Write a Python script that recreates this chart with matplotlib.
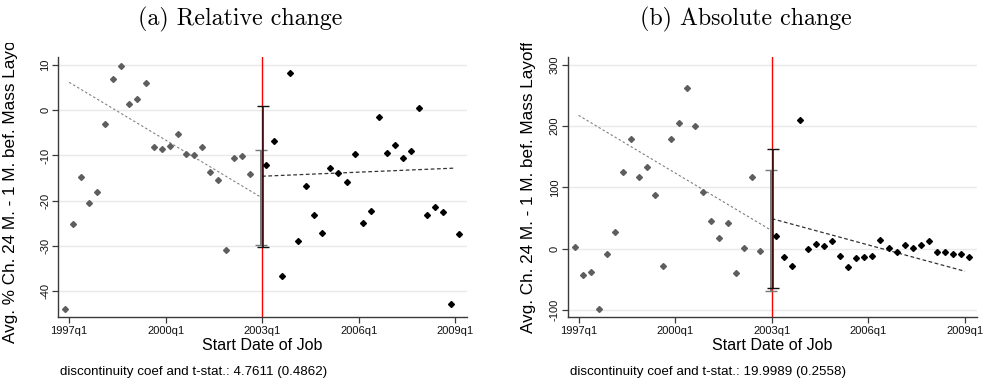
import matplotlib
matplotlib.use("Agg")
import matplotlib.pyplot as plt
from matplotlib.patches import Rectangle
import numpy as np

# ---------------- data ----------------
# x positions in quarters since 1997q1 (bin centres)
t_pre = [k - 0.5 for k in range(24)]
t_post = [k + 24.5 for k in range(25)]

rel_pre = [-44.1, -25.1, -14.7, -20.5, -18.1, -3.0, 6.9, 9.8, 1.3, 2.4, 6.0, -8.2,
           -8.5, -8.0, -5.3, -9.7, -10.0, -8.1, -13.6, -15.4, -31.0, -10.5, -10.2, -14.2]
rel_post = [-12.2, -6.8, -36.7, 8.2, -28.9, -16.7, -23.2, -27.2, -12.7, -13.9, -15.8,
            -9.7, -25.0, -22.2, -1.4, -9.5, -7.7, -10.5, -9.1, 0.5, -23.2, -21.5,
            -22.6, -42.9, -27.4]

abs_pre = [2.7, -43.1, -38.1, -99.2, -8.7, 26.7, 124.8, 178.7, 117.2, 133.0, 86.6,
           -28.9, 178.7, 205.4, 262.1, 199.5, 92.1, 45.2, 16.9, 42.5, -39.5, 1.6,
           116.6, -3.8]
abs_post = [21.3, -13.6, -27.8, 209.8, 0.0, 8.2, 4.4, 12.5, -11.4, -30.5, -15.3,
            -14.2, -11.4, 13.6, 1.6, -4.9, 5.4, 1.1, 5.4, 12.0, -6.0, -4.9, -8.7,
            -8.7, -13.6]

# fitted lines (start, end)
fit_x_pre = [0, 24]
fit_x_post = [24, 48]
rel_fit_pre = [6.2, -19.4]
rel_fit_post = [-14.6, -12.8]
abs_fit_pre = [217.4, 29.2]
abs_fit_post = [48.8, -37.1]

# confidence intervals at the cutoff (low, high)
rel_ci_pre = [-29.9, -8.9]
rel_ci_post = [-30.2, 1.0]
abs_ci_pre = [-69.2, 127.5]
abs_ci_post = [-64.9, 162.4]

cutoff = 24
xtick_pos = [0, 12, 24, 36, 48]
xtick_labels = ["1997q1", "2000q1", "2003q1", "2006q1", "2009q1"]

rel_yticks = [-40, -30, -20, -10, 0, 10]
abs_yticks = [-100, 0, 100, 200, 300]

titles = ["(a) Relative change", "(b) Absolute change"]
ylabels = ["Avg. % Ch. 24 M. - 1 M. bef. Mass Layoff",
           "Avg. Ch. 24 M. - 1 M. bef. Mass Layoff"]
xlabel = "Start Date of Job"
notes = ["discontinuity coef and t-stat.: 4.7611 (0.4862)",
         "discontinuity coef and t-stat.: 19.9989 (0.2558)"]

# ---------------- figure ----------------
W, H = 987, 386
fig = plt.figure(figsize=(W / 100, H / 100), dpi=100)
SANS = "Liberation Sans"
plt.rcParams["font.family"] = SANS

def fx(px):
    return px / W

def fy(py):
    return 1 - py / H

panels = [
    dict(left=58.3, right=466.7, ylim=(-45.7, 11.8), yticks=rel_yticks,
         pre=rel_pre, post=rel_post, fpre=rel_fit_pre, fpost=rel_fit_post,
         cpre=rel_ci_pre, cpost=rel_ci_post, title_x=240, ylab_x=11, note_x=60),
    dict(left=567.7, right=976.7, ylim=(-111.2, 312.6), yticks=abs_yticks,
         pre=abs_pre, post=abs_post, fpre=abs_fit_pre, fpost=abs_fit_post,
         cpre=abs_ci_pre, cpost=abs_ci_post, title_x=746, ylab_x=529, note_x=570),
]

top_px, bot_px = 57.0, 316.7
spine_col = "#3a3a3a"
gray_mk = "#5e5e5e"

clip_rect = Rectangle((0, 0), 1, fy(43), transform=fig.transFigure,
                      facecolor="none", edgecolor="none")
fig.add_artist(clip_rect)
clip_rect.set_visible(False)

for i, p in enumerate(panels):
    ax = fig.add_axes([fx(p["left"]), fy(bot_px), fx(p["right"] - p["left"]),
                       (bot_px - top_px) / H])
    ax.set_xlim(-1.35, 49.45)
    ax.set_ylim(*p["ylim"])

    for s in ["top", "right"]:
        ax.spines[s].set_visible(False)
    for s in ["left", "bottom"]:
        ax.spines[s].set_color(spine_col)
        ax.spines[s].set_linewidth(1.0)

    ax.set_yticks(p["yticks"])
    ax.set_yticklabels([str(v) for v in p["yticks"]], rotation=90, va="center")
    ax.set_xticks(xtick_pos)
    ax.set_xticklabels(xtick_labels)
    ax.tick_params(axis="both", labelsize=8, color=spine_col, length=4.2, width=0.9,
                   labelcolor="#111111")
    ax.tick_params(axis="x", pad=2.5)
    ax.tick_params(axis="y", pad=1.5)
    for v in p["yticks"]:
        ax.axhline(v, color="#e9e9e9", lw=1.0, zorder=0)

    # cutoff line
    ax.axvline(cutoff, color="#ff0000", lw=1.0, zorder=1)

    # fitted lines
    ax.plot(fit_x_pre, p["fpre"], color="#808080", lw=0.8, ls=(0, (2.2, 2.0)), zorder=2)
    ax.plot(fit_x_post, p["fpost"], color="#333333", lw=0.9, ls=(0, (3.0, 2.0)), zorder=2)

    # confidence intervals
    ax.errorbar([cutoff - 0.12], [np.mean(p["cpre"])],
                yerr=[[np.mean(p["cpre"]) - p["cpre"][0]], [p["cpre"][1] - np.mean(p["cpre"])]],
                fmt="none", ecolor="#777777", elinewidth=1.4, capsize=4.3, capthick=1.0,
                zorder=3)
    ax.errorbar([cutoff + 0.1], [np.mean(p["cpost"])],
                yerr=[[np.mean(p["cpost"]) - p["cpost"][0]], [p["cpost"][1] - np.mean(p["cpost"])]],
                fmt="none", ecolor="#111111", elinewidth=1.1, capsize=4.3, capthick=1.0,
                zorder=3)

    # scatter points
    ax.plot(t_pre, p["pre"], ls="none", marker="D", ms=3.0, color=gray_mk, mec=gray_mk,
            zorder=4)
    ax.plot(t_post, p["post"], ls="none", marker="D", ms=3.0, color="black", mec="black",
            zorder=4)

    cx = (p["left"] + p["right"]) / 2
    # title (serif)
    fig.text(fx(p["title_x"]), fy(25.3), titles[i], ha="center", va="baseline",
             fontsize=17.2, family="cmr10")
    # x label
    fig.text(fx(cx), fy(350), xlabel, ha="center", va="baseline", fontsize=11.5,
             family=SANS)
    # y label (clipped at top like the reference)
    yl = fig.text(fx(p["ylab_x"]), fy((top_px + bot_px) / 2), ylabels[i],
                  rotation=90, ha="center", va="center", fontsize=12.3, family=SANS)
    yl.set_clip_path(clip_rect)
    # note
    fig.text(fx(p["note_x"]), fy(375), notes[i], ha="left", va="baseline",
             fontsize=9.6, family=SANS)

fig.savefig("out.png", dpi=100)
